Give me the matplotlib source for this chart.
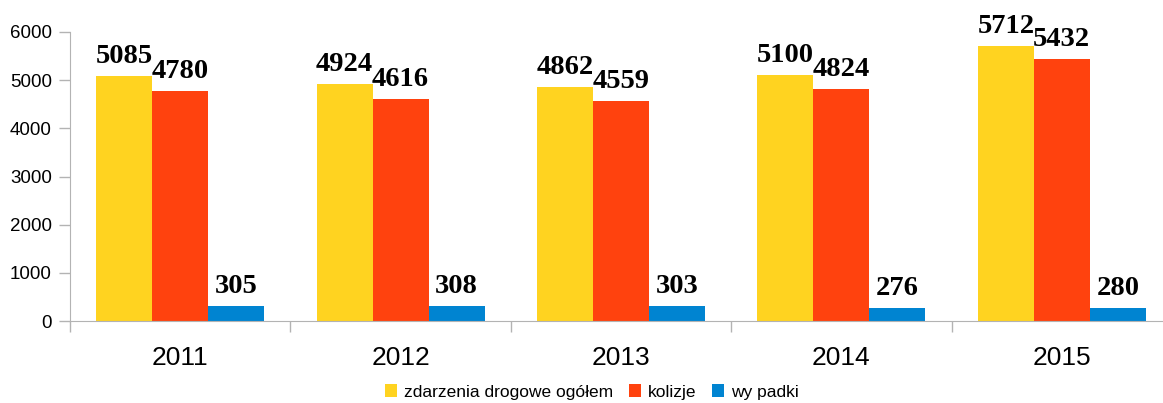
import matplotlib.pyplot as plt
import numpy as np

# --- data ---
years = ['2011', '2012', '2013', '2014', '2015']
ogolem = [5085, 4924, 4862, 5100, 5712]
kolizje = [4780, 4616, 4559, 4824, 5432]
wypadki = [305, 308, 303, 276, 280]

series = [ogolem, kolizje, wypadki]
names = ['zdarzenia drogowe ogółem', 'kolizje', 'wy padki']
colors = ['#FFD320', '#FF420E', '#0084D1']

W, H = 1163, 403
fig = plt.figure(figsize=(W / 100, H / 100), dpi=100)
ax = fig.add_axes([70 / W, (H - 321) / H, 1102 / W, 289 / H])

x = np.arange(len(years))
bw = 0.254
for i, (vals, name, col) in enumerate(zip(series, names, colors)):
    pos = x + (i - 1) * bw
    ax.bar(pos, vals, width=bw, color=col, label=name, zorder=2)
    for xp, v in zip(pos, vals):
        ax.annotate(str(v), (xp, v), xytext=(0, 5), textcoords='offset points',
                    ha='center', va='bottom', fontsize=20.5, fontweight='bold',
                    family='Liberation Serif', color='black')

ax.set_xlim(-0.5, len(years) - 0.5)
ax.set_ylim(0, 6000)
ax.set_yticks(range(0, 6001, 1000))
ax.set_xticks(x)
ax.set_xticklabels(years, fontsize=19, family='Liberation Sans')
ax.set_xticks(np.arange(len(years) + 1) - 0.5, minor=True)
ax.tick_params(axis='x', which='major', length=0, pad=18)
ax.tick_params(axis='x', which='minor', length=8, color='#b3b3b3', width=1)
ax.tick_params(axis='y', length=8, color='#b3b3b3', width=1, pad=5)
for lab in ax.get_yticklabels():
    lab.set_fontsize(13.5)
    lab.set_family('Liberation Sans')

for s in ['top', 'right']:
    ax.spines[s].set_visible(False)
for s in ['left', 'bottom']:
    ax.spines[s].set_color('#b3b3b3')

fig.legend(loc='center', bbox_to_anchor=(592 / W, 1 - 392 / H), ncol=3, frameon=False,
           prop={'family': 'Liberation Sans', 'size': 12.5}, handlelength=0.7, handleheight=0.7,
           handletextpad=0.4, columnspacing=0.9)

fig.savefig('out.png', dpi=100)
